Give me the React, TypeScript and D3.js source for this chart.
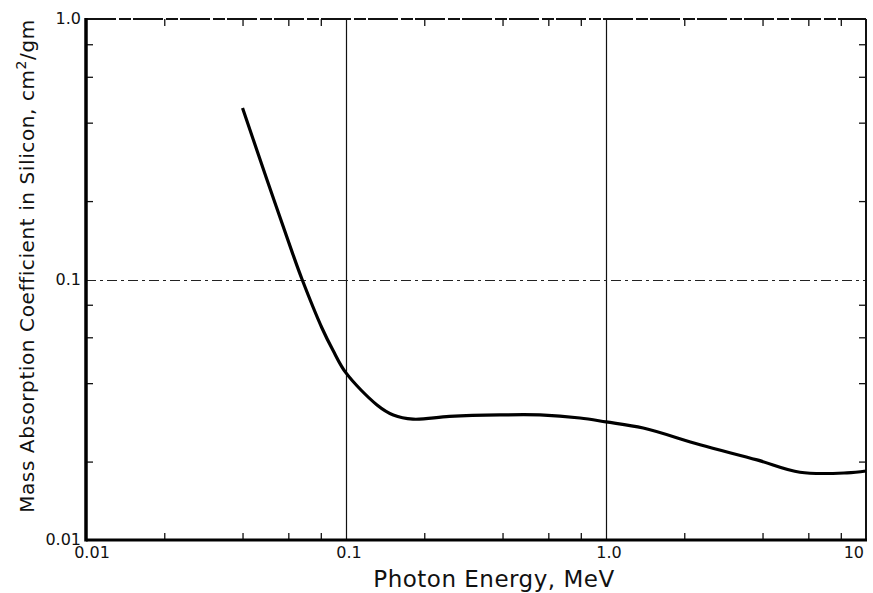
import React, { useEffect, useRef } from 'react';
import * as d3 from 'd3';

// photon energy (MeV) and mass absorption coefficient (cm^2/gm)
const energy = [0.04, 0.0497, 0.0623, 0.0678, 0.0809, 0.0891, 0.1, 0.1316, 0.152, 0.181, 0.25, 0.391, 0.557, 0.794, 1.0, 1.39, 2.3, 3.81, 5.57, 8.45, 10];
const coefficient = [0.455, 0.241, 0.126, 0.1, 0.065, 0.0535, 0.0438, 0.033, 0.0302, 0.0291, 0.0298, 0.0302, 0.0302, 0.0294, 0.0284, 0.0269, 0.0232, 0.0203, 0.0182, 0.0181, 0.0184];

const xMajor = [0.01, 0.1, 1, 10];
const xMajorLabels = ['0.01', '0.1', '1.0', '10'];
const xMinor = [0.02, 0.04, 0.06, 0.08, 0.2, 0.4, 0.6, 0.8, 2, 4, 6, 8];
const yMajor = [0.01, 0.1, 1];
const yMajorLabels = ['0.01', '0.1', '1.0'];
const yMinor = [0.02, 0.04, 0.06, 0.08, 0.2, 0.4, 0.6, 0.8];

const width = 873;
const height = 593;
const margin = { top: 19, right: 7, bottom: 53, left: 86 };

const App = () => {
    const svgRef = useRef<SVGSVGElement>(null);

    const innerWidth = width - margin.left - margin.right;
    const innerHeight = height - margin.top - margin.bottom;

    useEffect(() => {
        const svg = d3.select(svgRef.current);
        svg.selectAll('*').remove();
        const g = svg.append('g').attr('transform', `translate(${margin.left}, ${margin.top})`);

        const xScale = d3.scaleLog().domain([0.01, 10]).range([0, innerWidth]);
        const yScale = d3.scaleLog().domain([0.01, 1]).range([innerHeight, 0]);

        // grid lines at the inner decades
        g.selectAll('.vgrid')
            .data([0.1, 1])
            .enter().append('line')
            .attr('x1', d => Math.round(xScale(d)) + 0.5).attr('x2', d => Math.round(xScale(d)) + 0.5)
            .attr('y1', 0).attr('y2', innerHeight)
            .attr('stroke', '#111').attr('stroke-width', 1.2);

        g.append('line')
            .attr('x1', 0).attr('x2', innerWidth)
            .attr('y1', Math.round(yScale(0.1)) + 0.5).attr('y2', Math.round(yScale(0.1)) + 0.5)
            .attr('stroke', '#222').attr('stroke-width', 1)
            .attr('stroke-dasharray', '10 4 3 4');

        // minor ticks, inward on all four sides
        const tickLen = 7;
        g.append('g').attr('transform', `translate(0, ${innerHeight})`).call(d3.axisTop(xScale).tickValues(xMinor).tickSize(tickLen).tickFormat(() => ''));
        g.append('g').call(d3.axisBottom(xScale).tickValues(xMinor).tickSize(tickLen).tickFormat(() => ''));
        g.append('g').call(d3.axisRight(yScale).tickValues(yMinor).tickSize(tickLen).tickFormat(() => ''));
        g.append('g').attr('transform', `translate(${innerWidth}, 0)`).call(d3.axisLeft(yScale).tickValues(yMinor).tickSize(tickLen).tickFormat(() => ''));
        g.selectAll('.domain').remove();
        g.selectAll('.tick line').attr('stroke', '#111').attr('stroke-width', 1.3);

        // frame
        g.append('line').attr('x1', 0).attr('x2', innerWidth).attr('y1', 0).attr('y2', 0)
            .attr('stroke', '#111').attr('stroke-width', 2).attr('stroke-dasharray', '30 3 12 2');
        g.append('line').attr('x1', innerWidth).attr('x2', innerWidth).attr('y1', 0).attr('y2', innerHeight)
            .attr('stroke', '#111').attr('stroke-width', 2);
        g.append('line').attr('x1', 0).attr('x2', 0).attr('y1', -1).attr('y2', innerHeight + 1.5)
            .attr('stroke', '#000').attr('stroke-width', 3.5);
        g.append('line').attr('x1', 0).attr('x2', innerWidth + 1).attr('y1', innerHeight).attr('y2', innerHeight)
            .attr('stroke', '#000').attr('stroke-width', 3);

        // tick labels
        const font = '"DejaVu Sans", sans-serif';
        g.selectAll('.xlab')
            .data(xMajor)
            .enter().append('text')
            .attr('x', (d, i) => xScale(d) + (i === 0 ? 6 : i === xMajor.length - 1 ? -2 : 3))
            .attr('y', innerHeight + 18)
            .attr('text-anchor', (d, i) => (i === xMajor.length - 1 ? 'end' : 'middle'))
            .style('font-family', font).style('font-size', '16px').attr('fill', '#111')
            .text((d, i) => xMajorLabels[i]);

        g.selectAll('.ylab')
            .data(yMajor)
            .enter().append('text')
            .attr('x', -5)
            .attr('y', d => yScale(d) + 5)
            .attr('text-anchor', 'end')
            .style('font-family', font).style('font-size', '16px').attr('fill', '#111')
            .text((d, i) => yMajorLabels[i]);

        // axis titles
        svg.append('text')
            .attr('x', 494).attr('y', 587)
            .attr('text-anchor', 'middle')
            .style('font-family', font).style('font-size', '23px').style('letter-spacing', '0.5px').attr('fill', '#111')
            .text('Photon Energy, MeV');

        const yTitle = svg.append('text')
            .attr('transform', 'translate(34, 266) rotate(-90)')
            .attr('text-anchor', 'middle')
            .style('font-family', font).style('font-size', '20px').style('letter-spacing', '0.6px').attr('fill', '#111');
        yTitle.append('tspan').text('Mass Absorption  Coefficient in  Silicon,  cm');
        yTitle.append('tspan').attr('dy', -8).style('font-size', '14px').text('2');
        yTitle.append('tspan').attr('dy', 8).text('/gm');

        // curve
        const line = d3.line<number>()
            .curve(d3.curveCatmullRom.alpha(0.5))
            .x(d => xScale(energy[d]))
            .y(d => yScale(coefficient[d]));

        g.append('path')
            .datum(d3.range(energy.length))
            .attr('fill', 'none')
            .attr('stroke', '#000')
            .attr('stroke-width', 3.2)
            .attr('stroke-linejoin', 'round')
            .attr('d', line);
    }, []);

    return (
        <svg ref={svgRef} width={width} height={height}
            style={{ position: 'absolute', left: 0, top: 0, background: '#fff' }} />
    );
};

export default App;
